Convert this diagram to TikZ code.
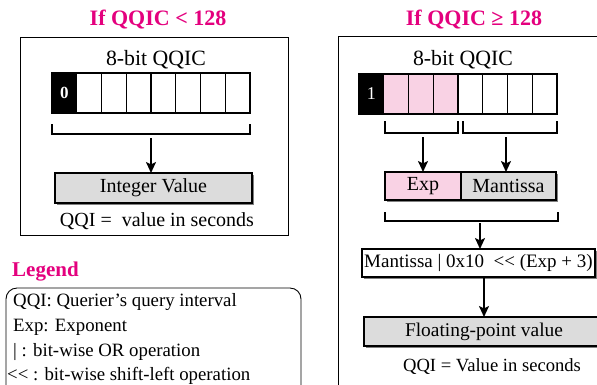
\documentclass[tikz,border=0pt]{standalone}
\usepackage{fontspec}
\setmainfont{Liberation Serif}
\usetikzlibrary{arrows.meta,shadows}
\definecolor{titlepink}{RGB}{228,0,126}
\definecolor{lightpink}{RGB}{249,210,228}
\definecolor{boxgray}{RGB}{220,220,220}
\tikzset{
 panel/.style={draw, line width=0.9pt, inner sep=0pt, outer sep=0pt},
 bitcell/.style={draw, line width=1.3pt, minimum width=24.75pt, minimum height=40pt, inner sep=0pt, outer sep=0pt},
 valbox/.style={draw, line width=1.4pt, inner sep=0pt, outer sep=0pt, font=\fontsize{20}{24}\selectfont,
   drop shadow={shadow xshift=2.2pt, shadow yshift=-2.2pt, fill=black!50, opacity=1}},
 flow/.style={line width=2pt, -{Stealth[length=11pt,width=10pt,inset=2.5pt]}},
 brack/.style={line width=1.2pt},
 txt/.style={font=\fontsize{20}{24}\selectfont, inner sep=0pt},
 legtxt/.style={font=\fontsize{18.8}{22}\selectfont, inner sep=0pt, anchor=west},
 ttl/.style={font=\fontsize{22}{26}\selectfont\bfseries, text=titlepink, inner sep=0pt},
}
\begin{document}
\begin{tikzpicture}[x=1pt,y=-1pt]
\useasboundingbox (0,0) rectangle (597,384);
\clip (0,0) rectangle (597,384);
\fill[white] (0,0) rectangle (597,384);

% ---------- left panel ----------
\node[panel, minimum width=268pt, minimum height=198pt] (lp) at (154,136) {};
\node[ttl] (lt) at (158,20) {If QQIC < 128};
\node[txt, font=\fontsize{21.8}{25}\selectfont] (lq) at (156,60) {8-bit QQIC};
\foreach \i in {1,...,8} {
  \node[bitcell] (l\i) at ({52+24.75*(\i-0.5)},93) {};
}
\node[bitcell, fill=black, text=white, font=\fontsize{17}{19}\selectfont\bfseries] (l1b) at (l1) {0};
\draw[brack] (52,124) |- (250,134) -- (250,124);
\coordinate (lbm) at (151,138);
\node[valbox, fill=boxgray, minimum width=197pt, minimum height=30pt] (ival) at (153.5,188) {Integer Value};
\draw[flow] (lbm) -- (lbm |- ival.north);
\node[txt] (lqqi) at (157,221) {QQI =\ \ value in seconds};

% ---------- legend ----------
\node[ttl, anchor=west, font=\fontsize{21}{24}\selectfont\bfseries] (lg) at (12,272) {Legend};
\draw[line width=0.9pt, rounded corners=11pt] (6,410) -- (6,288) -- (301,288) -- (301,410);
\node[legtxt] (lg1) at (13,302) {QQI: Querier's query interval};
\node[legtxt] (lg2) at (13,327) {Exp: Exponent};
\node[legtxt] (lg3) at (13,352) {| : bit-wise OR operation};
\node[legtxt] (lg4) at (7,376) {<{}< : bit-wise shift-left operation};

% ---------- right panel ----------
\node[panel, minimum width=290pt, minimum height=380pt] (rp) at (483,226) {};
\node[ttl] (rt) at (474,20) {If QQIC ≥ 128};
\node[txt, font=\fontsize{21.8}{25}\selectfont] (rq) at (463,60) {8-bit QQIC};
\foreach \i in {1,...,8} {
  \node[bitcell] (r\i) at ({359+24.75*(\i-0.5)},94) {};
}
\foreach \i in {2,3,4} {
  \node[bitcell, fill=lightpink] (rp\i) at (r\i) {};
}
\node[bitcell, fill=black, text=white, font=\fontsize{18}{20}\selectfont] (r1b) at (r1) {1};
\draw[brack] (385,121) |- (458,133) -- (458,121);
\draw[brack] (463,121) |- (557,133) -- (557,121);
\node[valbox, fill=lightpink, minimum width=76pt, minimum height=28pt] (exp) at (423,186) {Exp};
\node[valbox, fill=boxgray, minimum width=95pt, minimum height=28pt] (mant) at (508.5,186) {Mantissa};
\coordinate (rb1) at (423,137);
\coordinate (rb2) at (506,137);
\draw[flow] (rb1) -- (rb1 |- exp.north);
\draw[flow] (rb2) -- (rb2 |- mant.north);
\draw[brack] (385,212) |- (558,221) -- (558,212);
\coordinate (rb3) at (480,223);
\node[valbox, fill=white, minimum width=233pt, minimum height=28pt, font=\fontsize{19}{23}\selectfont] (form) at (478.5,263) {Mantissa | 0x10\ \ <{}< (Exp + 3)};
\draw[flow] (rb3) -- (rb3 |- form.north);
\node[valbox, fill=boxgray, minimum width=240pt, minimum height=29pt, font=\fontsize{19.4}{23}\selectfont] (flt) at (484,331.5) {Floating-point value};
\draw[flow] (form.south -| flt.north) -- (flt.north);
\node[txt, font=\fontsize{18.6}{22}\selectfont] (rqqi) at (492,367) {QQI = Value in seconds};
\end{tikzpicture}
\end{document}
